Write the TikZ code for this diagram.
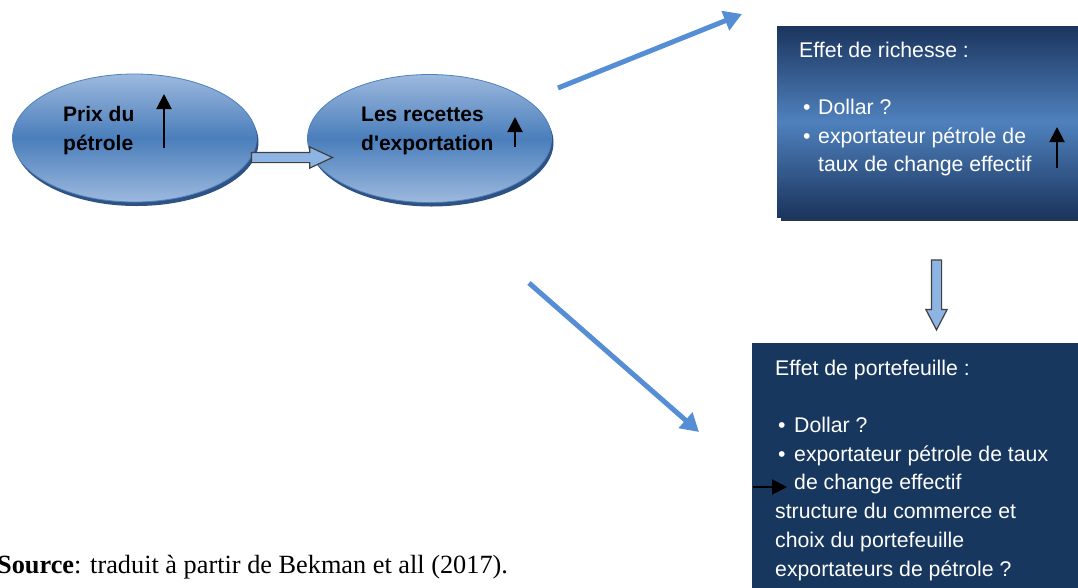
\documentclass[tikz,border=0pt]{standalone}
\usepackage{fontspec}
\setmainfont{Liberation Serif}
\newfontfamily\arialfont{Liberation Sans}
\usetikzlibrary{arrows.meta,shapes.geometric,shapes.arrows,shadows}
\definecolor{ovalmid}{HTML}{4A7EBB}
\definecolor{ovallight}{HTML}{9DB9DE}
\definecolor{ovaledge}{HTML}{4F81BD}
\definecolor{ovalshadow}{HTML}{2E5283}
\definecolor{navy}{HTML}{17375E}
\definecolor{navytop}{HTML}{1B355E}
\definecolor{boxmid}{HTML}{4F81BD}
\definecolor{boxshadow}{HTML}{243752}
\definecolor{flowfill}{HTML}{8DB4E2}
\definecolor{flowedge}{HTML}{404040}
\definecolor{linkblue}{HTML}{558ED5}
\begin{document}
\begin{tikzpicture}[x=1pt,y=-1pt,
    oval/.style={ellipse,draw=ovaledge,line width=0.8pt,minimum width=244pt,minimum height=128pt,
      top color=ovallight,bottom color=ovallight,middle color=ovalmid,
      drop shadow={shadow xshift=2pt,shadow yshift=-4pt,fill=ovalshadow,opacity=1}},
    flow/.style={single arrow,draw=flowedge,fill=flowfill,line width=1.2pt,inner xsep=0pt,inner ysep=4.5pt,
      single arrow head extend=5.5pt},
    link/.style={linkblue,line width=5pt,-{Triangle[width=20pt,length=18pt]}},
    rise/.style={black,line width=2pt,-{Triangle[width=15pt,length=15pt]}},
    lbl/.style={font=\arialfont\bfseries\fontsize{21}{29}\selectfont,align=left,inner sep=0pt,anchor=north west},
    boxtxt/.style={font=\arialfont\fontsize{21.25}{28.7}\selectfont,text=white,align=left,inner sep=0pt,anchor=north west}]
  \useasboundingbox (0,0) rectangle (1078,587);
  % the two boxes on the right
  \path (777,26) node[anchor=north west,minimum width=303pt,minimum height=191pt,inner sep=0pt,
      top color=navytop,bottom color=navytop,middle color=boxmid,
      drop shadow={shadow xshift=4pt,shadow yshift=-4pt,fill=boxshadow,opacity=1}](richesse){};
  \path (752,343) node[anchor=north west,minimum width=330pt,minimum height=250pt,inner sep=0pt,fill=navy](portef){};
  \path (799,41.5) node[boxtxt](richtxt){Effet de richesse :\\[28.7pt]
    \hspace*{4pt}\makebox[15pt][l]{\textbullet}Dollar ?\\
    \hspace*{4pt}\makebox[15pt][l]{\textbullet}exportateur pétrole de\\
    \hspace*{19pt}taux de change effectif};
  \path (775,359.5) node[boxtxt](portxt){Effet de portefeuille :\\[28.7pt]
    \hspace*{3pt}\makebox[16pt][l]{\textbullet}Dollar ?\\
    \hspace*{3pt}\makebox[16pt][l]{\textbullet}exportateur pétrole de taux\\
    \hspace*{19pt}de change effectif\\
    structure du commerce et\\
    choix du portefeuille\\
    exportateurs de pétrole ?};
  % the two ovals
  \path (134.5,138) node[oval](prix){} (429.5,138.5) node[oval](recettes){};
  \path (63,106.5) node[lbl](prixlbl){Prix du\\pétrole} (361,106.5) node[lbl](recetteslbl){Les recettes\\d'exportation};
  % block arrows
  \path (286.5,157.5) node[flow,minimum height=81pt,single arrow tip angle=50](flowa){};
  \path (936.5,290) node[flow,minimum height=70pt,single arrow tip angle=55,rotate=-90](flowb){};
  % small black arrows
  \coordinate (u1) at (164,148); \coordinate (u1t) at (164,94);
  \coordinate (u2) at (515,147); \coordinate (u2t) at (515,117);
  \coordinate (u3) at (1057,168); \coordinate (u3t) at (1057,127);
  \coordinate (h0) at (753,487); \coordinate (h1) at (787,487);
  \draw[rise] (u1) -- (u1t);
  \draw[rise] (u2) -- (u2t);
  \draw[rise] (u3) -- (u3t);
  \draw[rise] (h0) -- (h1);
  % blue links
  \coordinate (r0) at (558,88); \coordinate (r1) at (742,14);
  \coordinate (p0) at (529,283); \coordinate (p1) at (699,432);
  \draw[link] (r0) -- (r1);
  \draw[link] (p0) -- (p1);
  \path (-3,573) node[anchor=base west,inner sep=0pt,font=\fontsize{26.3}{30}\selectfont](source){\textbf{Source}: traduit à partir de Bekman et all (2017).};
\end{tikzpicture}
\end{document}
